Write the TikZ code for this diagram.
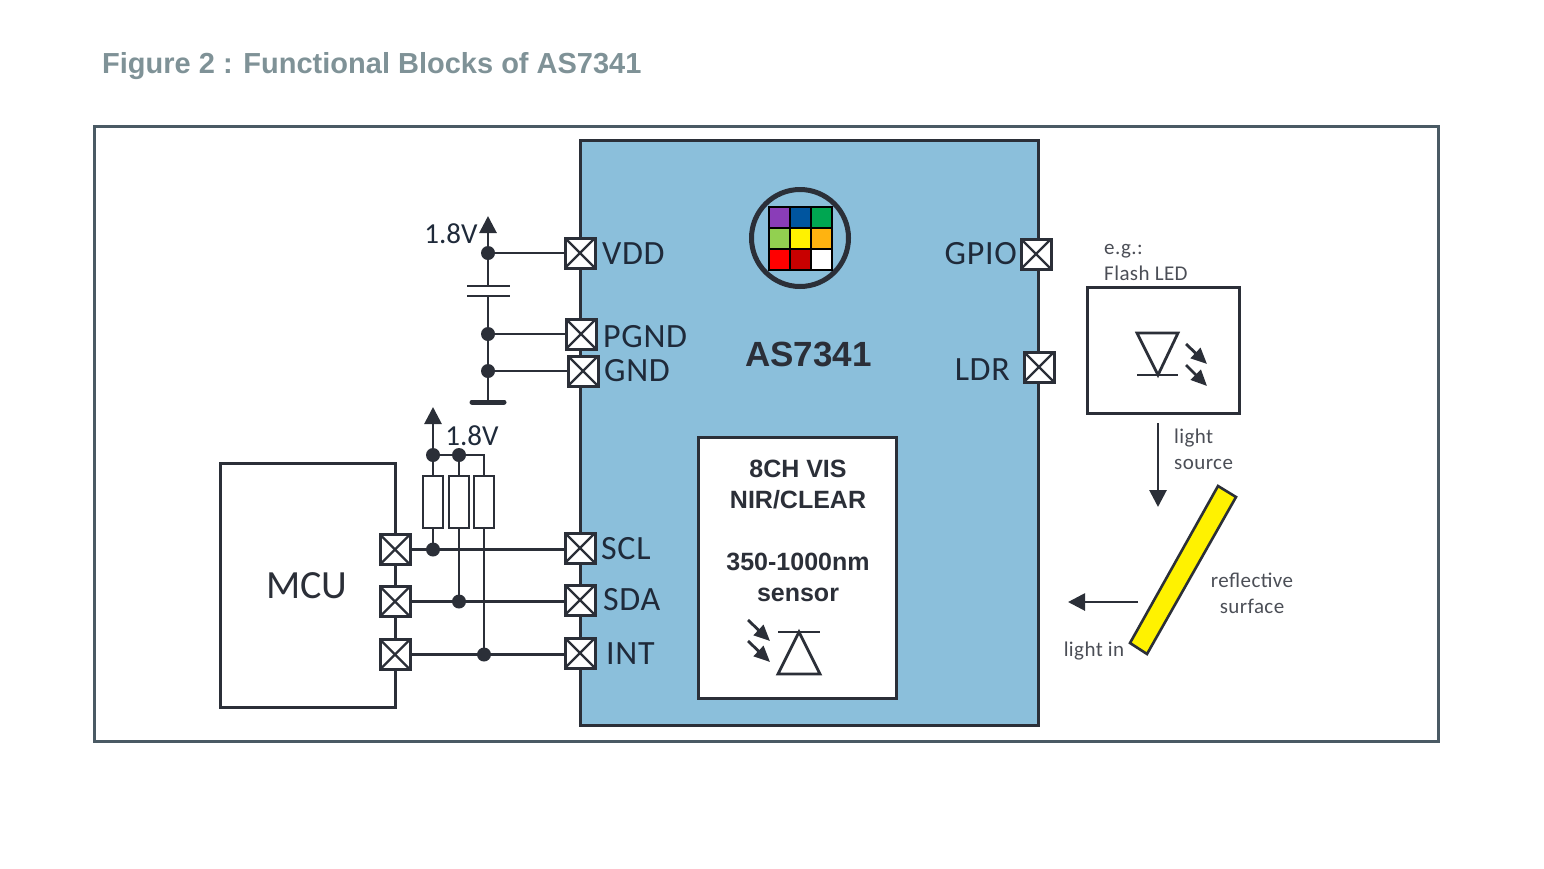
\documentclass[tikz,border=0pt]{standalone}
\usepackage{fontspec}
\setmainfont{Carlito}
\newfontfamily\headfont{Liberation Sans}
\newfontfamily\pinfont[LetterSpace=2]{Carlito}
\usetikzlibrary{arrows.meta,positioning}
\definecolor{framegray}{HTML}{4A5A64}
\definecolor{titlegray}{HTML}{7F9297}
\definecolor{chipblue}{HTML}{8BBFDB}
\definecolor{inkdark}{HTML}{2B2F38}
\definecolor{textdark}{HTML}{1F2A3A}
\definecolor{filterpurple}{HTML}{8A3DB8}
\definecolor{filterblue}{HTML}{00559F}
\definecolor{filtergreen}{HTML}{00A651}
\definecolor{filterlime}{HTML}{92D050}
\definecolor{filterorange}{HTML}{FFB310}
\definecolor{filterdarkred}{HTML}{C80000}
\tikzset{
  wire/.style={line width=2.8pt,draw=inkdark},
  bigtip/.style={-{Triangle[length=17pt,width=17pt]}},
  box/.style={draw=inkdark,line width=3pt,fill=white,inner sep=0pt,outer sep=0pt},
  pad/.style={draw=inkdark,line width=3pt,fill=white,minimum size=30pt,inner sep=0pt,outer sep=0pt,
    path picture={
      \draw[line width=2.2pt,inkdark] (path picture bounding box.south west) -- (path picture bounding box.north east);
      \draw[line width=2.2pt,inkdark] (path picture bounding box.north west) -- (path picture bounding box.south east);
    }},
  dot/.style={circle,fill=inkdark,minimum size=14pt,inner sep=0pt,outer sep=0pt},
  resistor/.style={draw=inkdark,line width=2.6pt,fill=white,minimum width=20pt,minimum height=52pt,inner sep=0pt,outer sep=0pt},
  pinlabel/.style={text=textdark,font=\pinfont\fontsize{34}{38}\selectfont,inner sep=0pt},
  smalllabel/.style={text=inkdark!85,font=\pinfont\fontsize{21}{26}\selectfont,inner sep=0pt,align=center},
  boldlabel/.style={text=inkdark,font=\headfont\bfseries\fontsize{25}{31}\selectfont,inner sep=0pt,align=center},
  cell/.style={draw=black,line width=2pt,minimum size=21pt,inner sep=0pt},
  ray/.style={line width=2.8pt,draw=inkdark,-{Triangle[length=16pt,width=14pt]}}
}
\begin{document}
\begin{tikzpicture}[x=1pt,y=-1pt]
  \useasboundingbox (0,0) rectangle (1544,868);
  %title and frame
  \node[anchor=west,inner sep=0pt,text=titlegray,font=\headfont\bfseries\fontsize{29}{34}\selectfont] (title) at (102,66) {Figure 2 : Functional Blocks of AS7341};
  \node[draw=framegray,line width=3pt,minimum width=1344pt,minimum height=615pt,inner sep=0pt] (frame) at (766,433.5) {};
  %chip
  \node[draw=inkdark,line width=3pt,fill=chipblue,minimum width=458pt,minimum height=585pt,inner sep=0pt,outer sep=0pt] (chip) at (809,432.5) {};
  \node[text=inkdark,font=\headfont\bfseries\fontsize{35}{40}\selectfont,inner sep=0pt] (chipname) at (808.5,354) {AS7341};
  %colour filter
  \node[draw=inkdark,line width=5pt,circle,minimum size=97pt,inner sep=0pt] (lens) at (800,238) {};
  \foreach \i/\x/\y/\cellcol in {1/779/217/filterpurple,2/800/217/filterblue,3/821/217/filtergreen,
    4/779/238/filterlime,5/800/238/yellow,6/821/238/filterorange,
    7/779/259/red,8/800/259/filterdarkred,9/821/259/white}
    \node[cell,fill=\cellcol] (cell\i) at (\x,\y) {};
  %pads of the chip
  \node[pad] (vdd) at (580,253) {};
  \node[pad] (pgnd) at (581,334) {};
  \node[pad] (gnd) at (583,371) {};
  \node[pad] (scl) at (580,548) {};
  \node[pad] (sda) at (580,600) {};
  \node[pad] (int) at (580,653) {};
  \node[pad] (gpio) at (1036,254) {};
  \node[pad] (ldr) at (1039,367) {};
  \node[pinlabel,right=7pt of vdd,yshift=-1pt] (vddlabel) {VDD};
  \node[pinlabel,right=7pt of pgnd,yshift=-3pt] (pgndlabel) {PGND};
  \node[pinlabel,right=6pt of gnd] (gndlabel) {GND};
  \node[pinlabel,right=6pt of scl,yshift=-1pt] (scllabel) {SCL};
  \node[pinlabel,right=8pt of sda] (sdalabel) {SDA};
  \node[pinlabel,right=11pt of int,yshift=-1pt] (intlabel) {INT};
  \node[pinlabel,left=4pt of gpio] (gpiolabel) {GPIO};
  \node[pinlabel,left=14pt of ldr,yshift=-3pt] (ldrlabel) {LDR};
  %supply side
  \coordinate (vddtip) at (488,216);
  \coordinate (captop) at (488,286);
  \coordinate (capbot) at (488,296);
  \coordinate (earth) at (488,402);
  \node[dot] (vddnode) at (488,253) {};
  \node[dot] (pgndnode) at (488,334) {};
  \node[dot] (gndnode) at (488,371) {};
  \draw[wire,bigtip] (vddnode) -- (vddtip);
  \draw[wire] (vddnode) -- (vdd);
  \draw[wire] (vddnode) -- (captop);
  \draw[wire] (captop) ++(-21,0) -- ++(43,0);
  \draw[wire] (capbot) ++(-21,0) -- ++(43,0);
  \draw[wire] (capbot) -- (pgndnode);
  \draw[wire] (pgndnode) -- (gndnode);
  \draw[wire] (gndnode) -- (earth);
  \draw[wire] (pgndnode) -- (pgnd);
  \draw[wire] (gndnode) -- (gnd);
  \draw[line width=5pt,inkdark,line cap=round] (earth) ++(-16,0) -- ++(32,0);
  \node[pinlabel,font=\fontsize{29}{34}\selectfont] (supplya) at (451,234) {1.8V};
  %mcu
  \node[box,minimum width=175pt,minimum height=244pt] (mcu) at (307.5,585) {};
  \node[pinlabel,font=\fontsize{40}{44}\selectfont,text=inkdark] (mcuname) at (307,586) {MCU};
  \node[pad] (mcuscl) at (395,549.5) {};
  \node[pad] (mcusda) at (395,601.5) {};
  \node[pad] (mcuint) at (395,654.5) {};
  %pull-ups
  \node[resistor] (resa) at (433,502) {};
  \node[resistor] (resb) at (459,502) {};
  \node[resistor] (resc) at (484,502) {};
  \coordinate (pulltip) at (433,407);
  \coordinate (pullcorner) at (484,455);
  \node[dot] (topa) at (433,455) {};
  \node[dot] (topb) at (459,455) {};
  \node[dot] (sclnode) at (433,549.5) {};
  \node[dot] (sdanode) at (459,601.5) {};
  \node[dot] (intnode) at (484,654.5) {};
  \draw[wire,bigtip] (topa) -- (pulltip);
  \draw[wire] (topa) -- (topb);
  \draw[wire] (topb) -- (pullcorner) -- (resc);
  \draw[wire] (topa) -- (resa);
  \draw[wire] (topb) -- (resb);
  \draw[wire] (resa) -- (sclnode);
  \draw[wire] (resb) -- (sdanode);
  \draw[wire] (resc) -- (intnode);
  \draw[wire] (mcuscl) -- (mcuscl -| scl.west);
  \draw[wire] (mcusda) -- (mcusda -| sda.west);
  \draw[wire] (mcuint) -- (mcuint -| int.west);
  \node[pinlabel,font=\fontsize{29}{34}\selectfont] (supplyb) at (472,436) {1.8V};
  %sensor
  \node[box,minimum width=198pt,minimum height=261pt] (sensor) at (797,567.5) {};
  \node[boldlabel] (sensortext) at (798,531) {8CH VIS\\NIR/CLEAR\\[31pt]350-1000nm\\sensor};
  \draw[wire] (778,632) -- (820,632);
  \draw[wire] (799,632) -- (778,674) -- (820,674) -- cycle;
  \draw[ray] (748,620) -- (770,641);
  \draw[ray] (748,641) -- (770,662);
  %flash led
  \node[box,minimum width=152pt,minimum height=126pt] (led) at (1163,350) {};
  \node[smalllabel,anchor=south west,align=left] (ledtext) at (1104,281) {e.g.:\\Flash LED};
  \draw[wire] (1137,375) -- (1178,375);
  \draw[wire] (1158,375) -- (1137,333) -- (1178,333) -- cycle;
  \draw[ray] (1186,344) -- (1207,364);
  \draw[ray] (1186,365) -- (1207,386);
  %light path
  \coordinate (sourcestart) at (1158,423);
  \coordinate (sourceend) at (1158,507);
  \coordinate (lightstart) at (1138,602);
  \coordinate (lightend) at (1068,602);
  \draw[wire,bigtip] (sourcestart) -- (sourceend);
  \draw[wire,bigtip] (lightstart) -- (lightend);
  \draw[line width=2.6pt,draw=inkdark,fill=yellow] (1218,486) -- (1236,497) -- (1147,654) -- (1130,643) -- cycle;
  \node[smalllabel,align=left,anchor=west] (sourcetext) at (1174,449.5) {light\\source};
  \node[smalllabel] (surfacetext) at (1252,593.5) {reflective\\surface};
  \node[smalllabel] (lightin) at (1094,651) {light in};
\end{tikzpicture}
\end{document}
